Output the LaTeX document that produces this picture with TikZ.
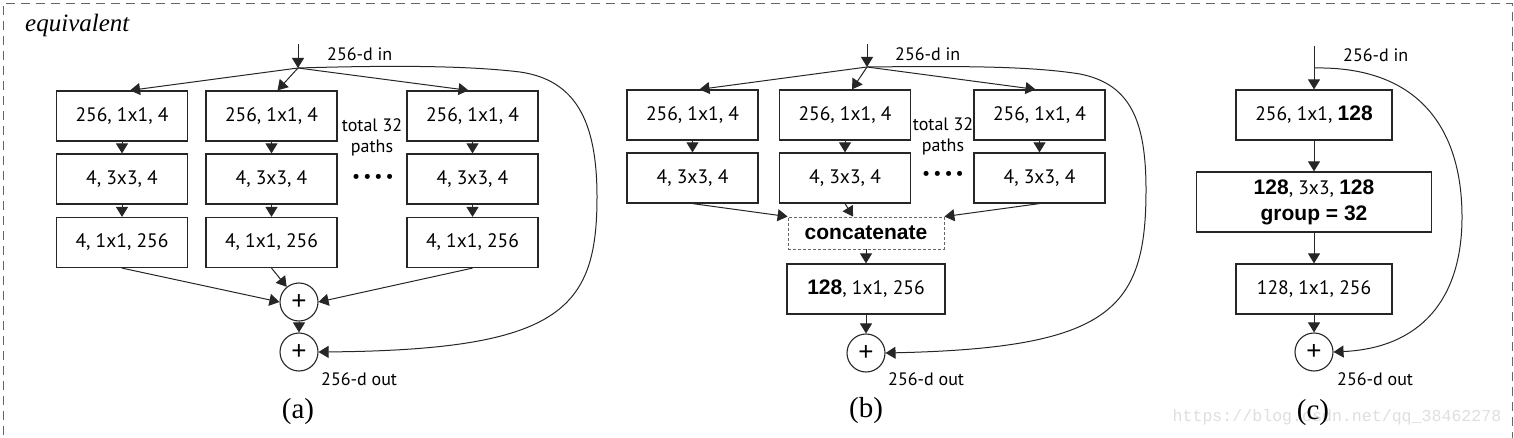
\documentclass[tikz,border=0pt]{standalone}
\usepackage{fontspec}
\setmainfont{Liberation Serif}
\newfontfamily\myr{PT Sans}
\newfontfamily\arialf{Liberation Sans}
\newfontfamily\monof{Liberation Mono}
\usetikzlibrary{arrows.meta}
\newcommand\bnum[1]{{\arialf\bfseries\fontsize{21}{26}\selectfont #1}}
\begin{document}
\begin{tikzpicture}[x=1pt,y=-1pt,
  box/.style={draw=black!85, line width=1.2pt, minimum width=131pt, minimum height=50pt, inner sep=0pt, text=black, font=\fontsize{19.5}{26}\selectfont\myr},
  arr/.style={draw=black!85, line width=1pt, -{Triangle[length=10pt,width=12pt]}},
  plus/.style={circle, draw=black!85, line width=1.1pt, minimum size=38pt, inner sep=0pt, font=\fontsize{26}{26}\selectfont\arialf},
  lbl/.style={font=\fontsize{18}{21}\selectfont\myr, text=black, inner sep=0pt},
  dotsty/.style={font=\fontsize{18}{21}\selectfont\myr, text=black, inner sep=0pt},
  captxt/.style={font=\fontsize{29}{30}\selectfont, inner sep=0pt},
]
\useasboundingbox (0,0) rectangle (1514,438);
% border
\draw[black!60, line width=0.8pt, dash pattern=on 9pt off 6pt] (3,450) -- (3,3) -- (1512,3) -- (1512,450);
\node[anchor=base west, inner sep=0pt, font=\fontsize{25}{25}\selectfont\itshape] (eq) at (25,32) {equivalent};

% ---------------- panel (a)
\coordinate (ain) at (298,44);
\coordinate (asp) at (298,68);
\draw[arr] (ain) -- (asp);
\node[lbl, anchor=west] (ainl) at (327,54) {256-d in};
\node[box] (a11) at (122,116) {256, 1x1, 4};
\node[box] (a12) at (122,179) {4, 3x3, 4};
\node[box] (a13) at (122,242.5) {4, 1x1, 256};
\node[box] (a21) at (271.5,116) {256, 1x1, 4};
\node[box] (a22) at (271.5,179) {4, 3x3, 4};
\node[box] (a23) at (271.5,242.5) {4, 1x1, 256};
\node[box] (a31) at (472.5,116) {256, 1x1, 4};
\node[box] (a32) at (472.5,179) {4, 3x3, 4};
\node[box] (a33) at (472.5,242.5) {4, 1x1, 256};
\node[lbl, align=center] (atot) at (372,137.5) {total 32\\paths};
\node[dotsty] (adots) at (373,178) {\textbullet\,\textbullet\,\textbullet\,\textbullet};
\draw[arr] (asp) -- ([xshift=8pt]a11.north);
\draw[arr] (asp) -- ([xshift=6pt]a21.north);
\draw[arr] (asp) -- ([xshift=-4pt]a31.north);
\draw[arr] (a11) -- (a12);
\draw[arr] (a12) -- (a13);
\draw[arr] (a21) -- (a22);
\draw[arr] (a22) -- (a23);
\draw[arr] (a31) -- (a32);
\draw[arr] (a32) -- (a33);
\node[plus] (ap1) at (299,302) {+};
\node[plus] (ap2) at (299,352) {+};
\draw[arr] (a13.south) -- (ap1.west);
\draw[arr] (a23.south) -- (ap1);
\draw[arr] (a33.south) -- (ap1.east);
\draw[arr] (ap1) -- (ap2);
\draw[arr] (asp) .. controls (400,65) and (470,66) .. (520,72) .. controls (575,80) and (597,120) .. (597,197) .. controls (597,310) and (560,350) .. (ap2.east);
\node[lbl, anchor=west] (aout) at (321,379) {256-d out};
\node[captxt] (acap) at (298,412) {(a)};

% ---------------- panel (b)
\coordinate (bin) at (867,44);
\coordinate (bsp) at (867,67);
\draw[arr] (bin) -- (bsp);
\node[lbl, anchor=west] (binl) at (895,54) {256-d in};
\node[box] (b11) at (692.5,115) {256, 1x1, 4};
\node[box] (b12) at (692.5,178) {4, 3x3, 4};
\node[box] (b21) at (845,115) {256, 1x1, 4};
\node[box] (b22) at (845,178) {4, 3x3, 4};
\node[box] (b31) at (1039.5,115) {256, 1x1, 4};
\node[box] (b32) at (1039.5,178) {4, 3x3, 4};
\node[lbl, align=center] (btot) at (943,136) {total 32\\paths};
\node[dotsty] (bdots) at (943,175) {\textbullet\,\textbullet\,\textbullet\,\textbullet};
\draw[arr] (bsp) -- ([xshift=7pt]b11.north);
\draw[arr] (bsp) -- ([xshift=7pt]b21.north);
\draw[arr] (bsp) -- ([xshift=-4pt]b31.north);
\draw[arr] (b11) -- (b12);
\draw[arr] (b21) -- (b22);
\draw[arr] (b31) -- (b32);
\node[draw=black!60, line width=0.8pt, dash pattern=on 3pt off 2pt, minimum width=156pt, minimum height=32pt, inner sep=0pt, font=\fontsize{21}{22}\selectfont\arialf\bfseries] (bcat) at (866,233) {concatenate};
\draw[arr] (b12.south) -- (bcat.north west);
\draw[arr] (b22.south) -- ([xshift=-13pt]bcat.north);
\draw[arr] (b32.south) -- (bcat.north east);
\node[box, minimum width=158pt] (b4) at (866,289) {\bnum{128}, 1x1, 256};
\draw[arr] (bcat) -- (b4);
\node[plus] (bp) at (866,353) {+};
\draw[arr] (b4) -- (bp);
\draw[arr] (bsp) .. controls (960,66) and (1030,66) .. (1080,74) .. controls (1130,84) and (1146,120) .. (1146,190) .. controls (1146,310) and (1110,348) .. (bp.east);
\node[lbl, anchor=west] (bout) at (888,379) {256-d out};
\node[captxt] (bcap) at (866,411) {(b)};

% ---------------- panel (c)
\node[text=black!13, inner sep=0pt, font=\fontsize{16.6}{17}\selectfont\monof] (wm) at (1337,417) {https://blog.csdn.net/qq\_38462278};
\coordinate (cin) at (1314,46);
\coordinate (csp) at (1314,68);
\node[lbl, anchor=west] (cinl) at (1343,55) {256-d in};
\node[box, minimum width=156pt] (c1) at (1314,115) {256, 1x1, \bnum{128}};
\node[box, minimum width=235pt, minimum height=60pt, align=center] (c2) at (1314,202) {\bnum{128}, 3x3, \bnum{128}\\\bnum{group = 32}};
\node[box, minimum width=156pt] (c3) at (1314,289) {128, 1x1, 256};
\node[plus] (cp) at (1314,352) {+};
\draw[arr] (cin) -- (c1.north);
\draw[arr] (c1) -- (c2);
\draw[arr] (c2) -- (c3);
\draw[arr] (c3) -- (cp);
\draw[arr] (csp) .. controls (1420,66) and (1462,130) .. (1462,217) .. controls (1462,300) and (1420,348) .. (cp.east);
\node[lbl, anchor=west] (cout) at (1337,379) {256-d out};
\node[captxt] (ccap) at (1313,413) {(c)};
\end{tikzpicture}
\end{document}
